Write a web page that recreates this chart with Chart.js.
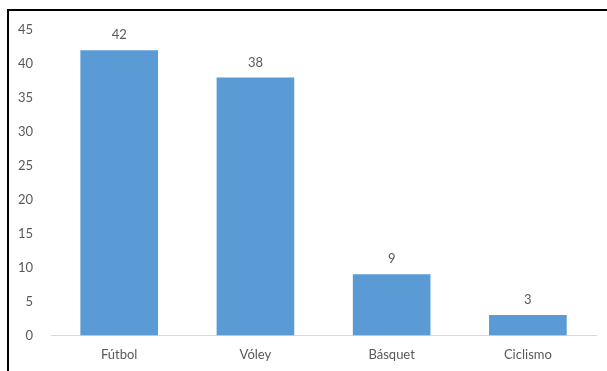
<!DOCTYPE html>
<html>
<head>
<meta charset="utf-8">
<script src="https://cdn.jsdelivr.net/npm/chart.js@4"></script>
<style>
  html, body { margin: 0; padding: 0; background: #fff; overflow: hidden; }
  #wrap { position: relative; width: 607px; height: 371px; overflow: hidden; }
  #frame {
    position: absolute; left: 7px; top: 9px; width: 640px; height: 400px;
    border: 2px solid #000; box-sizing: border-box;
  }
  canvas { position: absolute; left: 0; top: 0; }
</style>
</head>
<body>
<div id="wrap">
  <div id="frame"></div>
  <canvas id="sportsChart" width="607" height="383"></canvas>
</div>
<script>
const categories = ['Fútbol', 'Vóley', 'Básquet', 'Ciclismo'];
const counts = [42, 38, 9, 3];
const yTicks = [0, 5, 10, 15, 20, 25, 30, 35, 40, 45];

const labelColor = '#595959';
const labelFont = { family: 'Lato', size: 13 };

// numbers above each bar
const valueLabels = {
    id: 'valueLabels',
    afterDatasetsDraw(chart) {
        const ctx = chart.ctx;
        const meta = chart.getDatasetMeta(0);
        ctx.save();
        ctx.fillStyle = labelColor;
        ctx.font = '13px Lato';
        ctx.textAlign = 'center';
        ctx.textBaseline = 'alphabetic';
        meta.data.forEach(function (bar, i) {
            ctx.fillText(String(counts[i]), bar.x, bar.y - 11);
        });
        ctx.restore();
    }
};

document.addEventListener("DOMContentLoaded", function () {
    const ctx = document.getElementById('sportsChart').getContext('2d');

    new Chart(ctx, {
        type: 'bar',
        data: {
            labels: categories,
            datasets: [{
                data: counts,
                backgroundColor: '#5B9BD5',
                borderWidth: 0,
                barPercentage: 0.57,
                categoryPercentage: 1
            }]
        },
        options: {
            responsive: false,
            animation: false,
            layout: { padding: { left: 0, right: 11, top: 30, bottom: 8 } },
            plugins: {
                legend: { display: false },
                tooltip: { enabled: false }
            },
            scales: {
                x: {
                    grid: { display: false, drawTicks: false },
                    border: { display: true, color: '#d9d9d9', width: 1 },
                    ticks: { color: labelColor, font: labelFont, padding: 12 }
                },
                y: {
                    min: 0,
                    max: 45,
                    afterBuildTicks: function (axis) {
                        axis.ticks = yTicks.map(v => ({ value: v }));
                    },
                    grid: { display: false, drawTicks: false },
                    border: { display: false },
                    ticks: { color: labelColor, font: labelFont, padding: 18 }
                }
            }
        },
        plugins: [valueLabels]
    });
});
</script>
</body>
</html>
